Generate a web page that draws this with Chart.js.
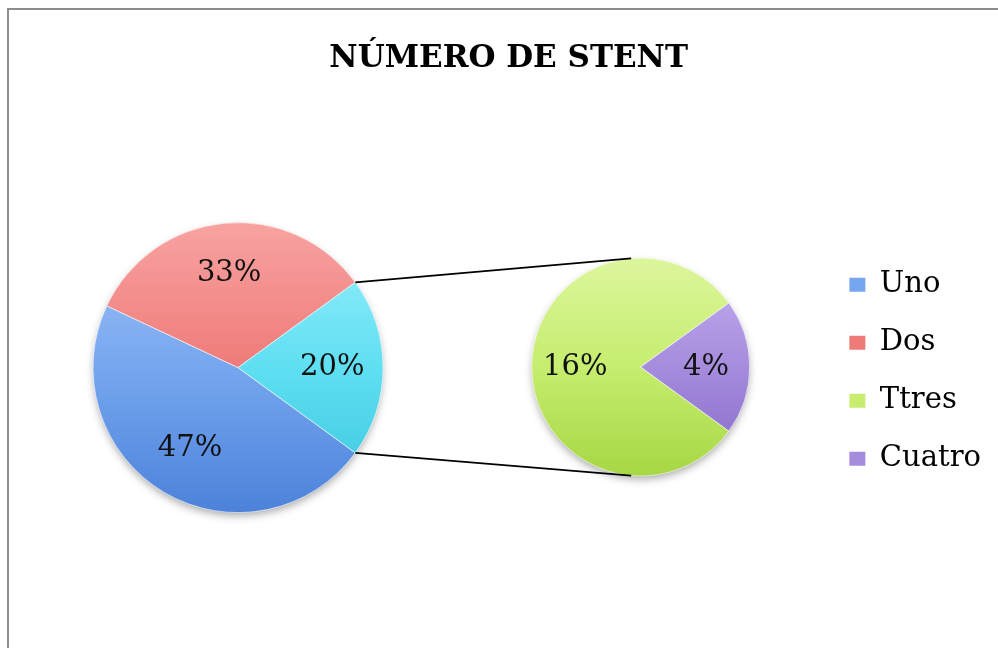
<!DOCTYPE html>
<html><head><meta charset="utf-8">
<script src="https://cdn.jsdelivr.net/npm/chart.js@4.4.1/dist/chart.umd.min.js"></script>
<style>
html,body{margin:0;padding:0;background:#fff;}
#wrap{position:relative;width:998px;height:648px;overflow:hidden;background:#fff;}
#frame{position:absolute;left:7px;top:8px;width:1100px;height:800px;border-left:2px solid #8c8c8c;border-top:2px solid #8c8c8c;}
#cA{position:absolute;left:-212px;top:0;}
#cB{position:absolute;left:0;top:0;}
</style></head><body>
<div id="wrap"><div id="frame"></div>
<canvas id="cA" width="900" height="648"></canvas>
<canvas id="cB" width="998" height="648"></canvas>
</div>
<script>
// ---- data ----
const chartTitle = 'NÚMERO DE STENT';
const categories = ['Uno', 'Dos', 'Ttres', 'Cuatro'];
const values = [47, 33, 16, 4];
const mainLabels = ['Uno', 'Dos', 'Otros'];
const mainValues = [values[0], values[1], values[2] + values[3]];
const secondLabels = ['Ttres', 'Cuatro'];
const secondValues = [values[2], values[3]];

// ---- styles ----
const palette = {
  Uno:    ['#a4c6f8', '#76a6ef', '#4c82da'],
  Dos:    ['#f8a3a1', '#ef7b79', '#da5856'],
  Otros:  ['#9cf0fb', '#5fdff2', '#37c4dc'],
  Ttres:  ['#dcf69c', '#c6ed6f', '#a6d744'],
  Cuatro: ['#c4b0f0', '#a58cdd', '#8567c6']
};
const total = values.reduce((a, b) => a + b, 0);
const RA = 145, RB = 109;

function grad(chart, key, R) {
  const a = chart.chartArea;
  if (!a) return palette[key][1];
  const cy = (a.top + a.bottom) / 2;
  const g = chart.ctx.createLinearGradient(0, cy - R, 0, cy + R);
  g.addColorStop(0, palette[key][0]);
  g.addColorStop(0.5, palette[key][1]);
  g.addColorStop(1, palette[key][2]);
  return g;
}

const pieShadow = {
  id: 'pieShadow',
  beforeDatasetsDraw(chart) {
    const arc = chart.getDatasetMeta(0).data[0];
    if (!arc) return;
    const ctx = chart.ctx;
    ctx.save();
    ctx.shadowColor = 'rgba(0,0,0,0.35)';
    ctx.shadowBlur = 8;
    ctx.shadowOffsetY = 4;
    ctx.beginPath();
    ctx.arc(arc.x, arc.y, arc.outerRadius - 1, 0, Math.PI * 2);
    ctx.fillStyle = '#ffffff';
    ctx.fill();
    ctx.restore();
  }
};

const pctLabels = {
  id: 'pctLabels',
  afterDatasetsDraw(chart, args, opts) {
    const ctx = chart.ctx;
    const meta = chart.getDatasetMeta(0);
    const data = chart.data.datasets[0].data;
    ctx.save();
    ctx.font = '29px "DejaVu Serif"';
    ctx.fillStyle = '#111';
    ctx.textAlign = 'center';
    ctx.textBaseline = 'middle';
    meta.data.forEach((arc, i) => {
      const mid = (arc.startAngle + arc.endAngle) / 2;
      const r = arc.outerRadius * opts.factor;
      ctx.fillText(Math.round(data[i] / total * 100) + '%', arc.x + r * Math.cos(mid), arc.y + r * Math.sin(mid));
    });
    ctx.restore();
  }
};

const chartA = new Chart(document.getElementById('cA'), {
  type: 'pie',
  data: {
    labels: mainLabels,
    datasets: [{
      data: mainValues,
      backgroundColor: c => grad(c.chart, mainLabels[c.dataIndex], RA),
      borderColor: 'rgba(255,255,255,0.55)',
      borderWidth: 1,
      radius: RA,
      rotation: 126
    }]
  },
  options: {
    responsive: false,
    animation: false,
    layout: { padding: 0 },
    plugins: {
      legend: { display: false },
      tooltip: { enabled: false },
      title: {
        display: true, text: chartTitle, align: 'end', color: '#000',
        font: { family: 'DejaVu Serif', size: 31, weight: 'bold' },
        padding: { top: 40, bottom: 10 }
      },
      pctLabels: { factor: 0.65 }
    }
  },
  plugins: [pieShadow, pctLabels]
});

const connectors = {
  id: 'connectors',
  afterDraw(chart) {
    const rA = chartA.canvas.getBoundingClientRect();
    const rB = chart.canvas.getBoundingClientRect();
    const dx = rA.left - rB.left, dy = rA.top - rB.top;
    const other = chartA.getDatasetMeta(0).data[2];
    const sec = chart.getDatasetMeta(0).data[0];
    const spread = 95 * Math.PI / 180;
    const ctx = chart.ctx;
    ctx.save();
    ctx.strokeStyle = '#000';
    ctx.lineWidth = 1.6;
    ctx.beginPath();
    ctx.moveTo(other.x + dx + other.outerRadius * Math.cos(other.startAngle), other.y + dy + other.outerRadius * Math.sin(other.startAngle));
    ctx.lineTo(sec.x + sec.outerRadius * Math.cos(-spread), sec.y + sec.outerRadius * Math.sin(-spread));
    ctx.moveTo(other.x + dx + other.outerRadius * Math.cos(other.endAngle), other.y + dy + other.outerRadius * Math.sin(other.endAngle));
    ctx.lineTo(sec.x + sec.outerRadius * Math.cos(spread), sec.y + sec.outerRadius * Math.sin(spread));
    ctx.stroke();
    ctx.restore();
  }
};

new Chart(document.getElementById('cB'), {
  type: 'pie',
  data: {
    labels: secondLabels,
    datasets: [{
      data: secondValues,
      backgroundColor: c => grad(c.chart, secondLabels[c.dataIndex], RB),
      borderColor: 'rgba(255,255,255,0.55)',
      borderWidth: 1,
      radius: RB,
      rotation: 126
    }]
  },
  options: {
    responsive: false,
    animation: false,
    layout: { padding: { left: 461, right: 7, top: 100, bottom: 14 } },
    plugins: {
      tooltip: { enabled: false },
      title: { display: false },
      legend: {
        position: 'right',
        align: 'center',
        title: { display: true, text: '', padding: 0, font: { size: 8 } },
        labels: {
          font: { family: 'DejaVu Serif', size: 29 },
          color: '#000',
          boxWidth: 16,
          boxHeight: 14,
          padding: 29,
          generateLabels: () => categories.map((c, i) => ({
            text: c, fillStyle: palette[c][1], strokeStyle: 'rgba(0,0,0,0)',
            lineWidth: 0, hidden: false, index: i, fontColor: '#000'
          }))
        }
      },
      pctLabels: { factor: 0.6 }
    }
  },
  plugins: [pieShadow, pctLabels, connectors]
});
</script>
</body></html>
